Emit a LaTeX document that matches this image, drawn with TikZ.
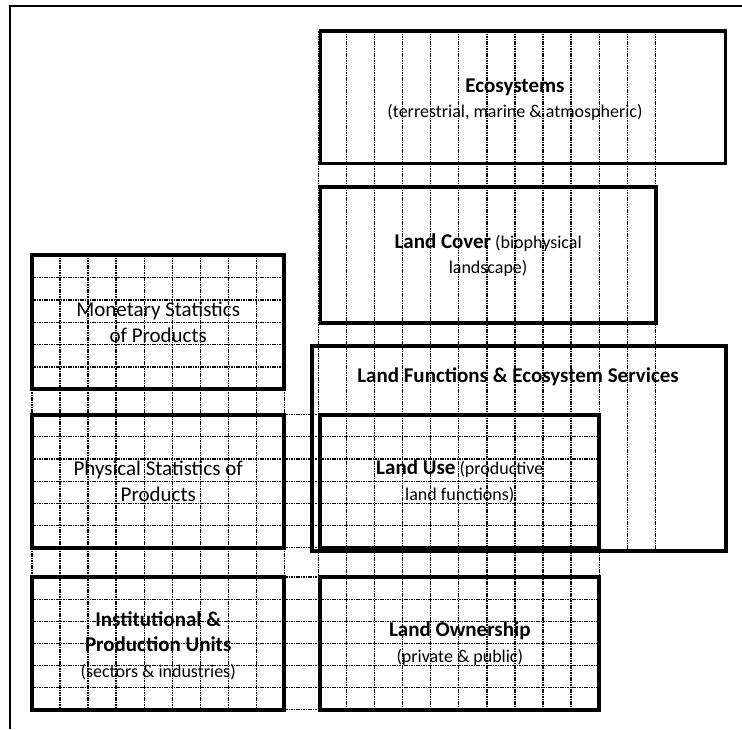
\documentclass[tikz,border=0pt]{standalone}
\usepackage{fontspec}
\setmainfont{Carlito}
\newcommand{\hd}[1]{{\fontsize{21}{25}\selectfont\bfseries #1}}
\begin{document}
\begin{tikzpicture}[x=1pt, y=-1pt,
    box/.style={rectangle, draw, line width=3.8pt, inner sep=0pt, align=center},
    grid/.style={line width=1.2pt, dash pattern=on 1.6pt off 0.8pt},
    frame/.style={line width=2pt},
    txt/.style={align=center, font=\fontsize{18}{25.5}\selectfont},
    bigtxt/.style={align=center, font=\fontsize{21}{26}\selectfont}
]
    \useasboundingbox (0,0) rectangle (742,729);
    \draw[frame] (9.5,729) -- (9.5,5.7) -- (742,5.7);

    % dotted grid
    \foreach \k in {0,...,10} \draw[grid] (318.6+28.05*\k,31.3) -- (318.6+28.05*\k,709.7);
    \foreach \k in {11,12} \draw[grid] (318.6+28.05*\k,31.3) -- (318.6+28.05*\k,551);
    \foreach \k in {0,...,9} \draw[grid] (32+28.03*\k,255.3) -- (32+28.03*\k,709.7);
    \foreach \k in {0,...,6} {
        \draw[grid] (32,255.3+22.33*\k) -- (284.3,255.3+22.33*\k);
        \draw[grid] (32,414.7+22.17*\k) -- (599.3,414.7+22.17*\k);
        \draw[grid] (32,577+22.12*\k) -- (599.3,577+22.12*\k);
    }

    \node[box, minimum width=405pt, minimum height=132.2pt] (eco) at (523,97.4) {};
    \node[txt] (ecotxt) at (515,99.5) {\hd{Ecosystems}\\(terrestrial, marine \& atmospheric)};
    \node[box, txt, minimum width=335.2pt, minimum height=135.7pt] (cover) at (488.1,254.9)
        {\hd{Land Cover} (biophysical\\landscape)};
    \node[box, minimum width=414pt, minimum height=204.7pt] (funcs) at (519,448.7) {};
    \node[txt] (funcstxt) at (518,377) {\hd{Land Functions \& Ecosystem Services}};
    \node[box, txt, minimum width=279pt, minimum height=133pt] (use) at (459.8,481.2)
        {\hd{Land Use} (productive\\land functions)};
    \node[box, txt, minimum width=279pt, minimum height=132.7pt] (owner) at (459.8,643.4)
        {\hd{Land Ownership}\\(private \& public)};

    \node[box, bigtxt, minimum width=252.3pt, minimum height=134pt] (monetary) at (158.2,322.3)
        {Monetary Statistics\\of Products};
    \node[box, bigtxt, minimum width=252.3pt, minimum height=133pt] (physical) at (158.2,481.2)
        {Physical Statistics of\\Products};
    \node[box, minimum width=252.3pt, minimum height=132.7pt] (units) at (158.2,643.4) {};
    \node[txt] (unitstxt) at (158.2,645.5)
        {\hd{Institutional \&}\\\hd{Production Units}\\(sectors \& industries)};
\end{tikzpicture}
\end{document}
